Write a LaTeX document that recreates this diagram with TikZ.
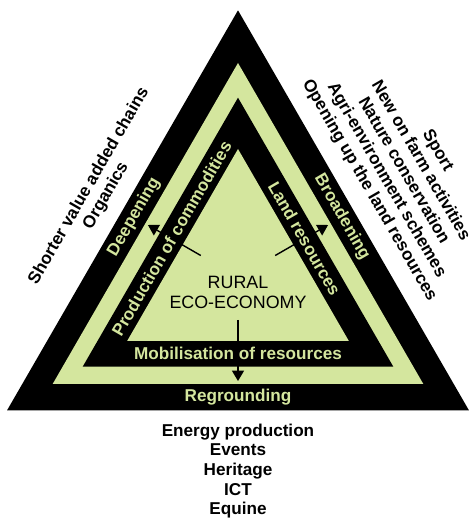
\documentclass[tikz,border=0pt]{standalone}
\usepackage{fontspec}
\setmainfont{Liberation Sans}
\usetikzlibrary{arrows.meta}
\definecolor{eco}{RGB}{212,230,158}
\tikzset{
    band/.style={text=eco, font=\fontsize{12.2}{14}\selectfont\bfseries, inner sep=0pt},
    outside/.style={align=center, font=\fontsize{12.2}{14}\selectfont\bfseries, inner sep=0pt},
    flow/.style={line width=1pt, -{Triangle[length=2.6mm, width=3mm]}},
}

\begin{document}
\begin{tikzpicture}
    \useasboundingbox (0,0) rectangle (11.825,12.95);
    \coordinate (c) at (5.95,6.025);
    % nested triangles, outside in
    \foreach \r/\clr in {6.667/black, 5.35/eco, 4.483/black, 3.2/eco}{
        \fill[\clr] ([shift={(90:\r)}]c) -- ([shift={(210:\r)}]c) -- ([shift={(330:\r)}]c) -- cycle;
    }
    % arrows from the core to the green band
    \foreach \a/\n in {150/deep, 30/broad, 270/reground}{
        \coordinate (\n-s) at ([shift={(\a:1.075)}]c);
        \coordinate (\n-e) at ([shift={(\a:2.6)}]c);
        \draw[flow] (\n-s) -- (\n-e);
    }
    \node[band, rotate=60] (deepening) at ([shift={(150:3.0)}]c) {Deepening};
    \node[band, rotate=-60] (broadening) at ([shift={(30:3.0)}]c) {Broadening};
    \node[band] (regrounding) at ([shift={(270:3.0)}]c) {Regrounding};
    \node[band, rotate=60] (production) at ([shift={(150:1.92)}]c) {Production of commodities};
    \node[band, rotate=-60] (land) at ([shift={(30:1.92)}]c) {Land resources};
    \node[band] (mobilisation) at ([shift={(270:1.92)}]c) {Mobilisation of resources};
    \node[align=center, inner sep=0pt, font=\fontsize{12.7}{14.2}\selectfont] (rural) at (5.95,5.65) {RURAL\\ECO-ECONOMY};
    % examples round the triangle
    \node[outside, rotate=60] (chains) at (2.44,8.175) {Shorter value added chains\\Organics};
    \node[outside, rotate=-60] (sport) at (10.08,8.68) {Sport\\New on farm activities\\Nature conservation\\Agri-environment schemes\\Opening up the land resources};
    \node[outside] (energy) at (5.95,1.175) {Energy production\\Events\\Heritage\\ICT\\Equine};
\end{tikzpicture}
\end{document}
